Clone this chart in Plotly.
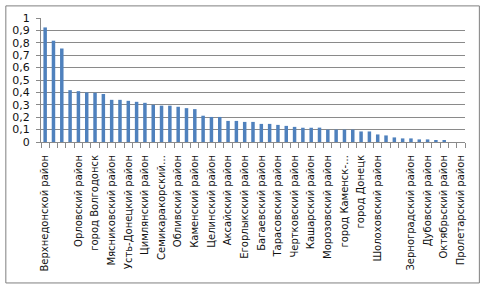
import plotly.graph_objects as go

# Values (51 districts, sorted descending)
values = [0.924, 0.817, 0.754, 0.418, 0.41, 0.40, 0.397, 0.387, 0.34, 0.34,
          0.332, 0.324, 0.316, 0.30, 0.293, 0.293, 0.284, 0.273, 0.265, 0.212,
          0.202, 0.202, 0.17, 0.17, 0.162, 0.162, 0.146, 0.146, 0.138, 0.13,
          0.122, 0.115, 0.115, 0.116, 0.1, 0.1, 0.1, 0.1, 0.085, 0.085,
          0.061, 0.053, 0.037, 0.029, 0.029, 0.021, 0.021, 0.013, 0.013, 0.0, 0.0]

# Labels shown on every second category (as visible in the reference)
shown_labels = ["Верхнедонской район", "", "Орловский район", "город Волгодонск",
                "Мясниковский район", "Усть-Донецкий район", "Цимлянский район",
                "Семикаракорский…", "Обливский район", "Каменский район",
                "Целинский район", "Аксайский район", "Егорлыкский район",
                "Багаевский район", "Тарасовский район", "Чертковский район",
                "Кашарский район", "Морозовский район", "город Каменск-…",
                "город Донецк", "Шолоховский район", "", "Зерноградский район",
                "Дубовский район", "Октябрьский район", "Пролетарский район"]

y_ticks = [i / 10 for i in range(11)]
y_tick_text = ["0", "0,1", "0,2", "0,3", "0,4", "0,5", "0,6", "0,7", "0,8", "0,9", "1"]

n = len(values)
xs = list(range(n))
label_pos = list(range(0, n, 2))

GRID = "#8a8a8a"
FONT = "DejaVu Sans"

fig = go.Figure(go.Bar(x=xs, y=values, marker=dict(color="#4f81bd", line=dict(width=0)),
                       width=0.42))

L, R, T, B = 37, 16, 14, 147
W, H = 481, 289
pw, ph = W - L - R, H - T - B

fig.update_layout(
    width=W, height=H,
    margin=dict(l=L, r=R, t=T, b=B, pad=0),
    paper_bgcolor="white", plot_bgcolor="white",
    showlegend=False,
    font=dict(family=FONT, color="#111111"),
    xaxis=dict(range=[-0.5, n - 0.5], tickmode="array", tickvals=label_pos,
               ticktext=shown_labels, tickangle=-90, ticks="",
               tickfont=dict(size=10, family=FONT),
               showline=True, linecolor=GRID, linewidth=1, showgrid=False,
               zeroline=False, ticklabelstandoff=8,
               minor=dict(tick0=-0.5, dtick=1, ticks="outside", ticklen=5,
                          tickcolor=GRID, tickwidth=1, showgrid=False)),
    yaxis=dict(range=[0, 1], tickmode="array", tickvals=y_ticks, ticktext=y_tick_text,
               ticks="outside", ticklen=4, tickcolor=GRID,
               tickfont=dict(size=11, family=FONT),
               showline=True, linecolor=GRID, linewidth=1,
               showgrid=True, gridcolor=GRID, gridwidth=1, zeroline=False,
               ticklabelstandoff=4),
)

# outer chart-area border
fig.add_shape(type="rect", xref="paper", yref="paper",
              x0=(1.5 - L) / pw, x1=(W - 1.5 - L) / pw,
              y0=-(H - 1.5 - T - ph) / ph, y1=1 + (T - 1.5) / ph,
              line=dict(color="#7f7f7f", width=1), fillcolor="rgba(0,0,0,0)", layer="below")

fig.write_html("out.html")
